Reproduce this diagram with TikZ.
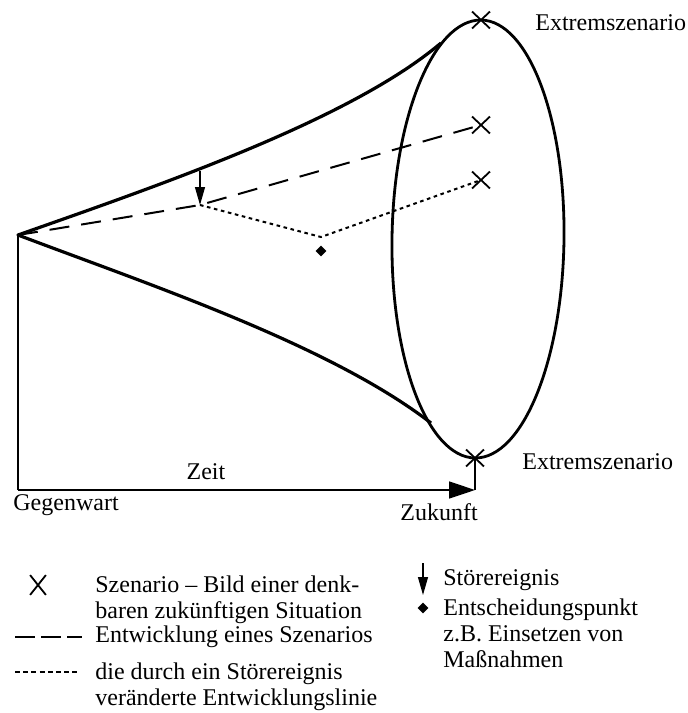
\documentclass[tikz,border=0pt]{standalone}
\usepackage{fontspec}
\setmainfont{Liberation Serif}
\usetikzlibrary{positioning,arrows.meta,shapes.geometric,shapes.misc}
\tikzset{
  lab/.style={inner sep=0pt, font=\fontsize{12}{13}\selectfont, align=left},
  xmark/.style={cross out, draw, line width=0.9pt, minimum width=8pt,
    minimum height=7.5pt, inner sep=0pt},
  dec/.style={diamond, fill=black, inner sep=0pt, minimum size=5.5pt},
  cone/.style={line width=1.6pt, line join=round},
  dev/.style={line width=1pt, dash pattern=on 10pt off 6pt},
  alt/.style={line width=1pt, dash pattern=on 1.8pt off 1.8pt},
  stoer/.style={-{Triangle[length=9pt,width=5pt]}, line width=0.6pt},
  axis/.style={line width=0.8pt}
}

\begin{document}
\begin{tikzpicture}[x=0.5pt, y=-0.5pt]
  \useasboundingbox (0,0) rectangle (688,713);

  % Trichter
  \coordinate (apex) at (18,235);
  \coordinate (tu) at (441,43);
  \coordinate (tl) at (431,423);
  \draw[cone] (tu) .. controls (350,120) and (160,185) .. (apex)
    .. controls (150,285) and (330,345) .. (tl);
  \draw[line width=1.4pt, rotate around={-0.8:(478,239)}]
    (478,239) ellipse [x radius=86, y radius=219];

  % Szenarien
  \node[xmark] (s1) at (481,20) {};
  \node[xmark] (s2) at (481,125) {};
  \node[xmark] (s3) at (481,180) {};
  \node[xmark] (s4) at (475,458) {};
  \node[lab, anchor=west] (ext1) at (535,23) {Extremszenario};
  \node[lab, anchor=west] (ext2) at (522,462) {Extremszenario};

  % Entwicklungslinien
  \coordinate (kink) at (200,205);
  \coordinate (hit) at (200,171);
  \coordinate (low) at (321,237);
  \node[dec] (ent) at (321,251) {};
  \draw[dev] (apex) -- (kink) -- (s2.center);
  \draw[alt] (kink) -- (low) -- (s3.center);
  \draw[stoer] (hit) -- (kink);

  % Zeitachse
  \coordinate (t0) at (18,490);
  \coordinate (t1) at (475,490);
  \draw[axis] (apex) -- (t0);
  \draw[axis, -{Triangle[length=13pt,width=8.5pt]}] (t0) -- (t1);
  \draw[axis] (s4.center) -- (t1);
  \node[lab] (zeit) at (206,472) {Zeit};
  \node[lab, anchor=west] (gw) at (13,505) {Gegenwart};
  \node[lab, anchor=west] (zk) at (400,512) {Zukunft};

  % Legende
  \node[xmark, minimum width=7pt, minimum height=9pt] (lx) at (38,585) {};
  \node[lab, anchor=north west] (l1) at (95,575)
    {Szenario -- Bild einer denk-\\baren zukünftigen Situation};
  \coordinate (d0) at (15,637);
  \coordinate (d1) at (82,637);
  \draw[line width=1pt, dash pattern=on 10pt off 3pt] (d0) -- (d1);
  \node[lab, anchor=west] (l2) at (95,637) {Entwicklung eines Szenarios};
  \coordinate (p0) at (15,672);
  \coordinate (p1) at (80,672);
  \draw[line width=1pt, dash pattern=on 2.5pt off 1.6pt] (p0) -- (p1);
  \node[lab, anchor=north west] (l3) at (95,662)
    {die durch ein Störereignis\\veränderte Entwicklungslinie};

  \coordinate (a0) at (423,563);
  \coordinate (a1) at (423,595);
  \draw[stoer] (a0) -- (a1);
  \node[lab, anchor=west] (l4) at (443,580) {Störereignis};
  \node[dec] (ld) at (423,608) {};
  \node[lab, anchor=north west] (l5) at (443,598)
    {Entscheidungspunkt\\z.B. Einsetzen von\\Maßnahmen};
\end{tikzpicture}
\end{document}
